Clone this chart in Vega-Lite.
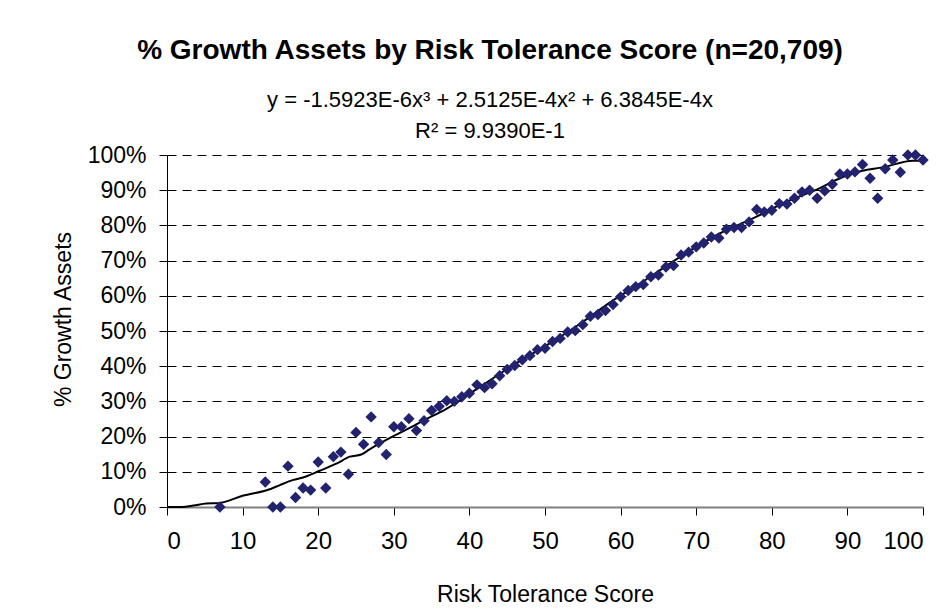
{
  "$schema": "https://vega.github.io/schema/vega-lite/v6.json",
  "autosize": "none",
  "width": 756,
  "height": 352,
  "padding": {"left": 167, "top": 155, "right": 28, "bottom": 103},
  "background": "white",
  "config": {
    "font": "Liberation Sans",
    "view": {"stroke": null},
    "axis": {"labelColor": "black", "titleColor": "black", "labelFont": "Liberation Sans", "titleFont": "Liberation Sans"}
  },
  "title": {
    "text": "% Growth Assets by Risk Tolerance Score (n=20,709)",
    "subtitle": ["y = -1.5923E-6x³ + 2.5125E-4x² + 6.3845E-4x", "R² = 9.9390E-1"],
    "anchor": "middle",
    "dx": -55,
    "font": "Liberation Sans",
    "fontSize": 28,
    "fontWeight": "bold",
    "color": "black",
    "subtitleFont": "Liberation Sans",
    "subtitleFontSize": 22,
    "subtitleColor": "black",
    "subtitleLineHeight": 31,
    "subtitlePadding": 25,
    "offset": 2
  },
  "datasets": {
    "points": [
      {"score": 7, "pct": 0.0}, {"score": 13, "pct": 0.071}, {"score": 14, "pct": 0.0}, {"score": 15, "pct": 0.0},
      {"score": 16, "pct": 0.116}, {"score": 17, "pct": 0.027}, {"score": 18, "pct": 0.054}, {"score": 19, "pct": 0.048},
      {"score": 20, "pct": 0.128}, {"score": 21, "pct": 0.054}, {"score": 22, "pct": 0.143}, {"score": 23, "pct": 0.156},
      {"score": 24, "pct": 0.093}, {"score": 25, "pct": 0.212}, {"score": 26, "pct": 0.178}, {"score": 27, "pct": 0.256},
      {"score": 28, "pct": 0.183}, {"score": 29, "pct": 0.149}, {"score": 30, "pct": 0.228}, {"score": 31, "pct": 0.228},
      {"score": 32, "pct": 0.251}, {"score": 33, "pct": 0.217}, {"score": 34, "pct": 0.245}, {"score": 35, "pct": 0.274},
      {"score": 36, "pct": 0.286}, {"score": 37, "pct": 0.302}, {"score": 38, "pct": 0.300}, {"score": 39, "pct": 0.313},
      {"score": 40, "pct": 0.323}, {"score": 41, "pct": 0.347}, {"score": 42, "pct": 0.339}, {"score": 43, "pct": 0.350},
      {"score": 44, "pct": 0.373}, {"score": 45, "pct": 0.391}, {"score": 46, "pct": 0.402}, {"score": 47, "pct": 0.418},
      {"score": 48, "pct": 0.430}, {"score": 49, "pct": 0.447}, {"score": 50, "pct": 0.451}, {"score": 51, "pct": 0.470},
      {"score": 52, "pct": 0.479}, {"score": 53, "pct": 0.497}, {"score": 54, "pct": 0.501}, {"score": 55, "pct": 0.518},
      {"score": 56, "pct": 0.542}, {"score": 57, "pct": 0.547}, {"score": 58, "pct": 0.558}, {"score": 59, "pct": 0.575},
      {"score": 60, "pct": 0.597}, {"score": 61, "pct": 0.615}, {"score": 62, "pct": 0.626}, {"score": 63, "pct": 0.632},
      {"score": 64, "pct": 0.654}, {"score": 65, "pct": 0.659}, {"score": 66, "pct": 0.682}, {"score": 67, "pct": 0.686},
      {"score": 68, "pct": 0.716}, {"score": 69, "pct": 0.724}, {"score": 70, "pct": 0.739}, {"score": 71, "pct": 0.750},
      {"score": 72, "pct": 0.767}, {"score": 73, "pct": 0.764}, {"score": 74, "pct": 0.789}, {"score": 75, "pct": 0.794},
      {"score": 76, "pct": 0.794}, {"score": 77, "pct": 0.810}, {"score": 78, "pct": 0.845}, {"score": 79, "pct": 0.838},
      {"score": 80, "pct": 0.843}, {"score": 81, "pct": 0.862}, {"score": 82, "pct": 0.861}, {"score": 83, "pct": 0.877},
      {"score": 84, "pct": 0.895}, {"score": 85, "pct": 0.900}, {"score": 86, "pct": 0.877}, {"score": 87, "pct": 0.898},
      {"score": 88, "pct": 0.917}, {"score": 89, "pct": 0.946}, {"score": 90, "pct": 0.946}, {"score": 91, "pct": 0.952},
      {"score": 92, "pct": 0.973}, {"score": 93, "pct": 0.934}, {"score": 94, "pct": 0.877}, {"score": 95, "pct": 0.961},
      {"score": 96, "pct": 0.986}, {"score": 97, "pct": 0.951}, {"score": 98, "pct": 1.0}, {"score": 99, "pct": 1.0},
      {"score": 100, "pct": 0.986}
    ],
    "trend": [
      {"score": 0, "pct": 0.0}, {"score": 2, "pct": 0.0}, {"score": 3.5, "pct": 0.004}, {"score": 5.2, "pct": 0.010},
      {"score": 6.8, "pct": 0.011}, {"score": 10, "pct": 0.032}, {"score": 13.8, "pct": 0.052}, {"score": 15, "pct": 0.063},
      {"score": 16.7, "pct": 0.077}, {"score": 18, "pct": 0.084}, {"score": 20.2, "pct": 0.103}, {"score": 22.4, "pct": 0.123},
      {"score": 24.2, "pct": 0.143}, {"score": 25.7, "pct": 0.149}, {"score": 26.8, "pct": 0.164}, {"score": 28.1, "pct": 0.180},
      {"score": 30, "pct": 0.202}, {"score": 32.5, "pct": 0.229}, {"score": 33.4, "pct": 0.240}, {"score": 36.9, "pct": 0.278},
      {"score": 41.3, "pct": 0.340}, {"score": 45.7, "pct": 0.402}, {"score": 50.2, "pct": 0.459}, {"score": 54.6, "pct": 0.520},
      {"score": 59, "pct": 0.587}, {"score": 62.5, "pct": 0.634}, {"score": 64.2, "pct": 0.658}, {"score": 68.7, "pct": 0.722},
      {"score": 73.1, "pct": 0.777}, {"score": 77.5, "pct": 0.820}, {"score": 81.9, "pct": 0.867}, {"score": 86.3, "pct": 0.905},
      {"score": 88.5, "pct": 0.929}, {"score": 90.7, "pct": 0.948}, {"score": 95.1, "pct": 0.967}, {"score": 98.6, "pct": 0.984},
      {"score": 100, "pct": 0.984}
    ]
  },
  "encoding": {
    "x": {
      "field": "score", "type": "quantitative",
      "scale": {"domain": [0, 100], "nice": false, "zero": true},
      "axis": {
        "values": [0, 10, 20, 30, 40, 50, 60, 70, 80, 90, 100],
        "title": "Risk Tolerance Score",
        "grid": false,
        "domainColor": "#808080", "domainWidth": 2,
        "tickColor": "black", "tickSize": 8,
        "labelFontSize": 24, "labelPadding": 14,
        "titleFontSize": 23, "titleFontWeight": "normal", "titlePadding": 30
      }
    },
    "y": {
      "field": "pct", "type": "quantitative",
      "scale": {"domain": [0, 1], "nice": false},
      "axis": {
        "values": [0, 0.1, 0.2, 0.3, 0.4, 0.5, 0.6, 0.7, 0.8, 0.9, 1.0],
        "format": ".0%",
        "title": "% Growth Assets",
        "titleY": 164,
        "grid": true, "gridColor": "black", "gridDash": [9, 6], "gridWidth": 1,
        "domainColor": "black", "domainWidth": 1,
        "tickColor": "black", "tickSize": 8,
        "labelFontSize": 23, "labelPadding": 13,
        "titleFontSize": 23, "titleFontWeight": "normal", "titlePadding": 12
      }
    }
  },
  "layer": [
    {
      "data": {"name": "trend"},
      "mark": {"type": "line", "color": "black", "strokeWidth": 2, "interpolate": "monotone"},
      "encoding": {}
    },
    {
      "data": {"name": "points"},
      "mark": {"type": "point", "shape": "diamond", "filled": true, "color": "#22226e", "size": 130, "opacity": 1},
      "encoding": {}
    }
  ]
}
